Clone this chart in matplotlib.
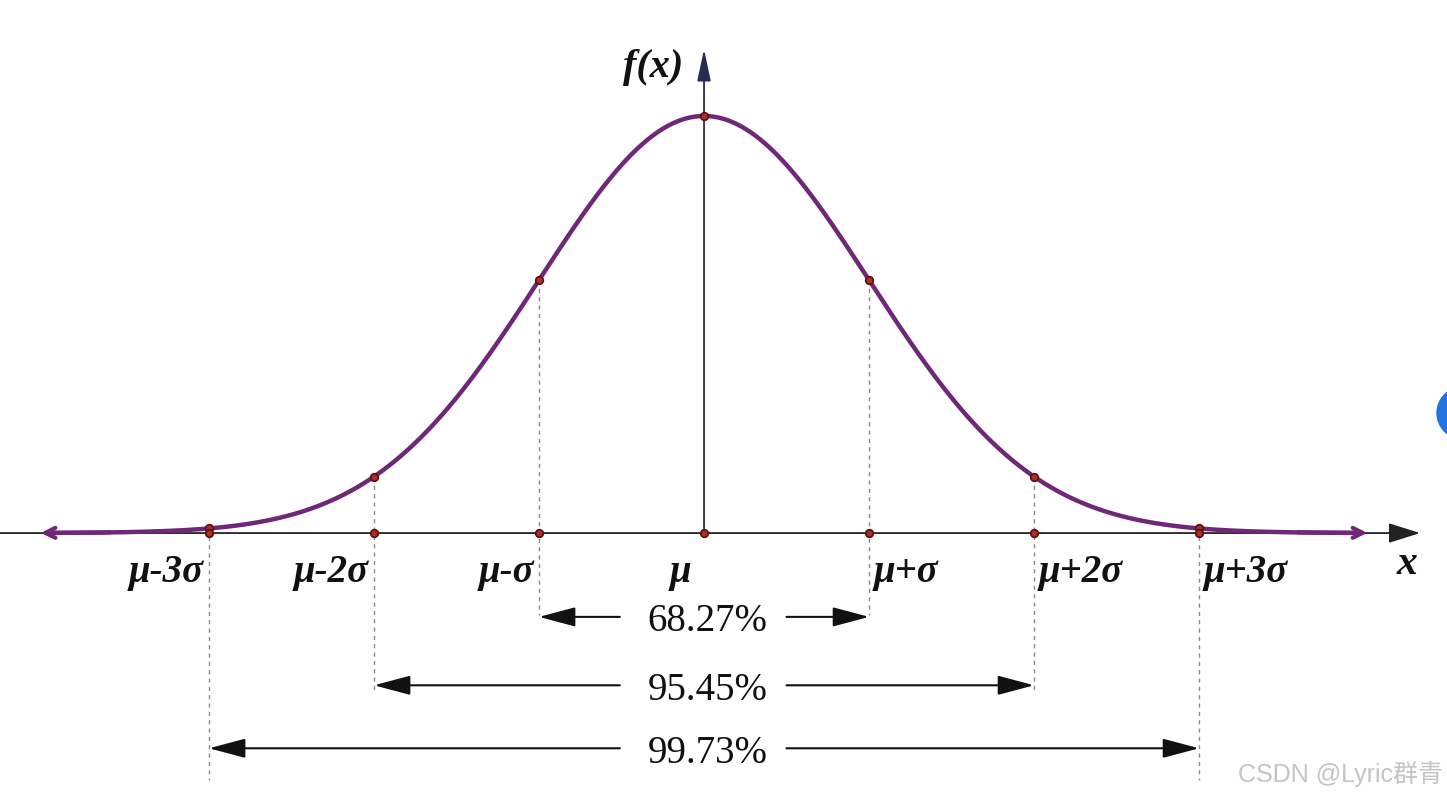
import numpy as np
import matplotlib.pyplot as plt
from matplotlib.patches import Circle

# sigma multiples marked on the axis
sig_pos = [-3, -2, -1, 0, 1, 2, 3]
sig_labels = ["μ-3σ", "μ-2σ", "μ-σ", "μ", "μ+σ", "μ+2σ", "μ+3σ"]

# coverage bands
band_k = [1, 2, 3]
band_text = ["68.27%", "95.45%", "99.73%"]

purple = "#6f2777"
dot_face = "#a8302c"
dot_edge = "#5a0e0e"
serif = "Liberation Serif"
ink = "#111111"

fig = plt.figure(figsize=(14.47, 8), dpi=100)
ax = fig.add_axes([0, 0, 1, 1])
ax.set_xlim(-4.267, 4.503)
ax.set_ylim(-0.640, 1.278)
ax.axis("off")


def curve(s):
    return np.exp(-0.5 * np.asarray(s, dtype=float) ** 2)


# x axis
ax.annotate("", xy=(4.34, 0), xytext=(-4.4, 0),
            arrowprops=dict(arrowstyle="-|>,head_length=0.7,head_width=0.22",
                            color="#222222", lw=1.3,
                            mutation_scale=28, shrinkA=0, shrinkB=0))
# y axis
ax.annotate("", xy=(0, 1.16), xytext=(0, 0),
            arrowprops=dict(arrowstyle="-|>,head_length=0.75,head_width=0.16",
                            color="#2a2a55", lw=1.3,
                            mutation_scale=26, shrinkA=0, shrinkB=0))

# the bell curve
xs = np.linspace(-3.95, 3.95, 600)
ax.plot(xs, curve(xs), color=purple, lw=3.2, solid_capstyle="round", zorder=3)
for a, b in [(-3.6, -4.02), (3.6, 4.02)]:
    ax.annotate("", xy=(b, curve(b)), xytext=(a, curve(a)),
                arrowprops=dict(arrowstyle="->", color=purple, lw=3.0,
                                mutation_scale=18, shrinkA=0, shrinkB=0))

# dashed guides
for k, y_end in zip(band_k, [-0.197, -0.376, -0.592]):
    for s in (-k, k):
        ax.plot([s, s], [curve(s), y_end], color="#8a8a8a", lw=1.0,
                ls=(0, (3, 3)), zorder=1)

# dots on curve and axis
for s in sig_pos:
    ax.plot(s, curve(s), "o", ms=5.5, mfc=dot_face, mec=dot_edge, mew=1.2, zorder=5)
    ax.plot(s, 0, "o", ms=5.5, mfc=dot_face, mec=dot_edge, mew=1.2, zorder=5)

# axis labels
for s, lab in zip(sig_pos, sig_labels):
    if s < 0:
        ax.text(s - 0.03, -0.095, lab, ha="right", va="center", fontsize=28,
                family=serif, style="italic", weight="bold", color=ink)
    elif s == 0:
        ax.text(-0.08, -0.095, lab, ha="right", va="center", fontsize=28,
                family=serif, style="italic", weight="bold", color=ink)
    else:
        ax.text(s + 0.03, -0.095, lab, ha="left", va="center", fontsize=28,
                family=serif, style="italic", weight="bold", color=ink)

ax.text(4.26, -0.075, "x", ha="center", va="center", fontsize=30,
        family=serif, style="italic", weight="bold", color=ink)
ax.text(-0.31, 1.115, "f(x)", ha="center", va="center", fontsize=29,
        family=serif, style="italic", weight="bold", color=ink)

# coverage arrows
for k, txt, y in zip(band_k, band_text, [-0.201, -0.365, -0.516]):
    ax.text(0.02, y - 0.012, txt, ha="center", va="center", fontsize=28,
            family=serif, color=ink)
    for tail, head in [(-0.51, -k), (0.50, k)]:
        ax.annotate("", xy=(head, y), xytext=(tail, y),
                    arrowprops=dict(arrowstyle="-|>,head_length=0.75,head_width=0.2",
                                    color=ink, lw=1.5,
                                    mutation_scale=30, shrinkA=0, shrinkB=0))

# watermark and the blue blob at the right edge
fig.text(0.997, 0.033, "CSDN @Lyric群青", ha="right", va="center", fontsize=18,
         family=["Liberation Sans", "Noto Sans CJK SC"], color="#c4c4c4")
fig.patches.append(Circle((14.63, 3.87), 0.26, transform=fig.dpi_scale_trans,
                          color="#1f74e0"))

fig.savefig("out.png", dpi=100, facecolor="white")
